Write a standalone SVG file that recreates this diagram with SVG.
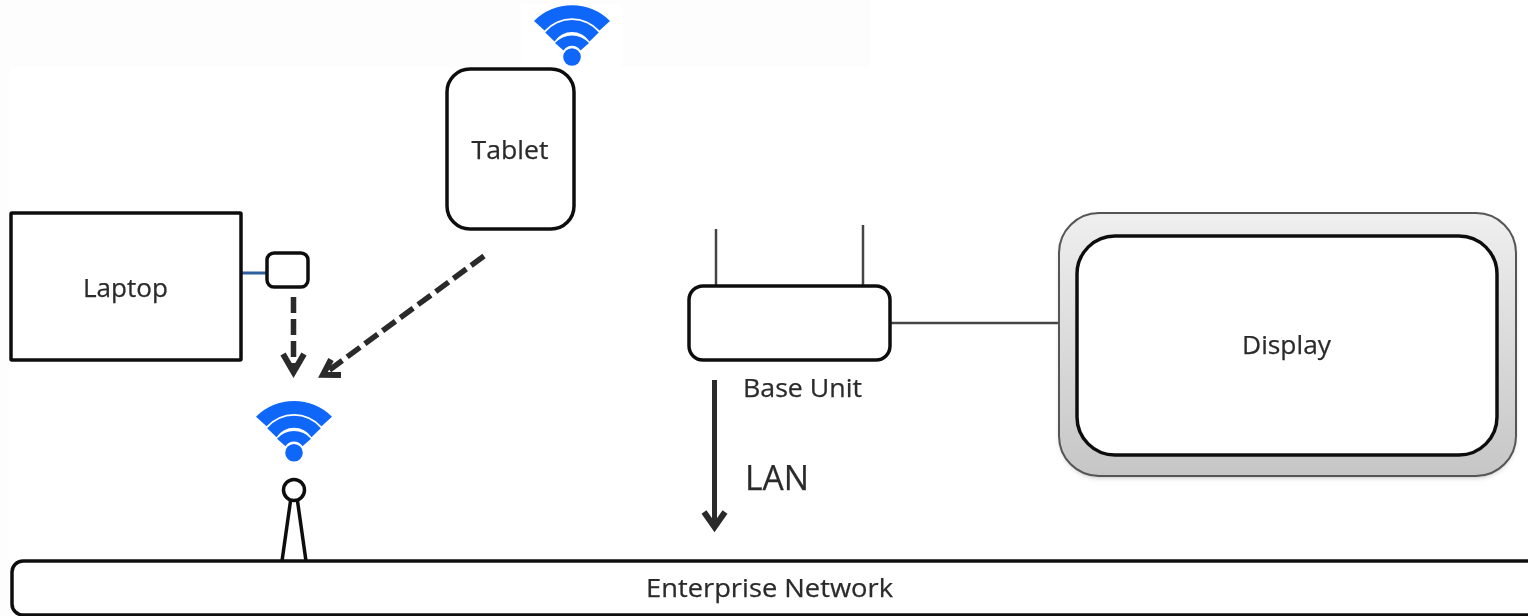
<svg xmlns="http://www.w3.org/2000/svg" width="1528" height="616" viewBox="0 0 1528 616">
<style>
.box{fill:#fff;stroke:#111;stroke-width:3.500}
.lbl{font-family:"Open Sans","Noto Sans","Liberation Sans",sans-serif;fill:#2b2b2b;stroke:#2b2b2b;stroke-width:.25;text-anchor:middle}
.dash{fill:none;stroke:#2a2a2a;stroke-width:5.500;stroke-dasharray:16 6}
.head{fill:none;stroke:#2a2a2a;stroke-width:6;stroke-linejoin:miter}
.thin{fill:none;stroke:#444;stroke-width:2.500}
.soft{filter:url(#soft)}
</style>
<defs>
<linearGradient id="bezel" x1="0" y1="0" x2="0" y2="1"><stop offset="0" stop-color="#efefef"/><stop offset="1" stop-color="#c6c6c6"/></linearGradient>
<filter id="shadow" x="-5%" y="-5%" width="110%" height="115%"><feGaussianBlur stdDeviation="2.500"/></filter>
<filter id="soft" filterUnits="userSpaceOnUse" x="0" y="0" width="1528" height="616"><feGaussianBlur stdDeviation="0.7"/></filter>
<g id="wifi" fill="#0f67fa">
<circle r="8.800"/>
<path d="M-38-36A53.800 53.800 0 0 1 38-36L27.500-26.500A37 37 0 0 0-27.500-26.500Z"/>
<path d="M-26.800-24.500A35 35 0 0 1 26.800-24.500L17.500-15.500A21 21 0 0 0-17.500-15.500Z"/>
<path d="M-17-14A22.800 22.800 0 0 1 17-14L8.500-6.500A10 10 0 0 0-8.500-6.500Z"/>
</g>
</defs>
<rect width="1528" height="616" fill="#fff"/>
<rect width="870" height="67" fill="#fdfdfd"/>
<rect y="67" width="10" height="549" fill="#fdfdfd"/>
<rect x="521" y="4" width="101" height="63" fill="#fff"/>

<g id="connectors" class="soft">
<path d="M242 276H267" stroke="#888" stroke-width="4" fill="none" filter="url(#shadow)"/>
<path d="M242 273H267" stroke="#2f5f9e" stroke-width="3" fill="none"/>
<path class="dash" d="M293.500 297V372"/>
<path class="head" d="M283 354L293.500 372L304 354"/>
<path class="dash" d="M484 256L328 371"/>
<path class="head" d="M331 359.500L323 374.800L341 375"/>
<path class="thin" d="M716 229V286M863 225V286" stroke-width="2"/>
<path class="thin" d="M891 323H1059"/>
<path d="M714.500 380V526" stroke="#2a2a2a" stroke-width="5" fill="none"/>
<path class="head" d="M704 512L714.500 527L725 512"/>
<path d="M290.500 501L282 561M297.500 501L306 561" fill="none" stroke="#111" stroke-width="3.500"/>
</g>

<g id="wifi-tablet"><use href="#wifi" x="572" y="57"/></g>
<g id="wifi-person"><use href="#wifi" x="294" y="452.700"/></g>

<g id="tablet" class="soft"><rect class="box" x="447" y="69" width="127" height="160" rx="23"/><text class="lbl" x="510" y="159" font-size="26" textLength="77" lengthAdjust="spacingAndGlyphs">Tablet</text></g>
<g id="laptop" class="soft"><rect class="box" x="11" y="213" width="230" height="147" rx="1"/><text class="lbl" x="125.500" y="297" font-size="26" textLength="85" lengthAdjust="spacingAndGlyphs">Laptop</text></g>
<g id="dongle" class="soft"><rect class="box" x="267" y="253" width="41" height="34" rx="7"/></g>
<g id="person" class="soft"><circle class="box" cx="294" cy="490" r="10.500"/></g>
<g id="base-unit" class="soft"><rect class="box" x="689" y="286" width="201" height="74" rx="14"/><text class="lbl" x="802.500" y="397" font-size="26" textLength="119" lengthAdjust="spacingAndGlyphs">Base Unit</text></g>
<text class="lbl soft" x="777" y="490" font-size="35" textLength="64" lengthAdjust="spacingAndGlyphs">LAN</text>
<g id="display" class="soft">
<rect x="1060" y="218" width="455" height="260" rx="40" fill="#888" opacity=".5" filter="url(#shadow)"/>
<rect x="1059" y="213" width="457" height="263" rx="40" fill="url(#bezel)" stroke="#555" stroke-width="2"/>
<rect class="box" x="1077" y="236" width="420" height="219" rx="38"/>
<text class="lbl" x="1286.500" y="354" font-size="26" textLength="89" lengthAdjust="spacingAndGlyphs">Display</text>
</g>
<g id="enterprise-network" class="soft"><rect class="box" x="12" y="561" width="1530" height="54" rx="11"/><text class="lbl" x="769.500" y="597" font-size="26" textLength="247" lengthAdjust="spacingAndGlyphs">Enterprise Network</text></g>
</svg>
